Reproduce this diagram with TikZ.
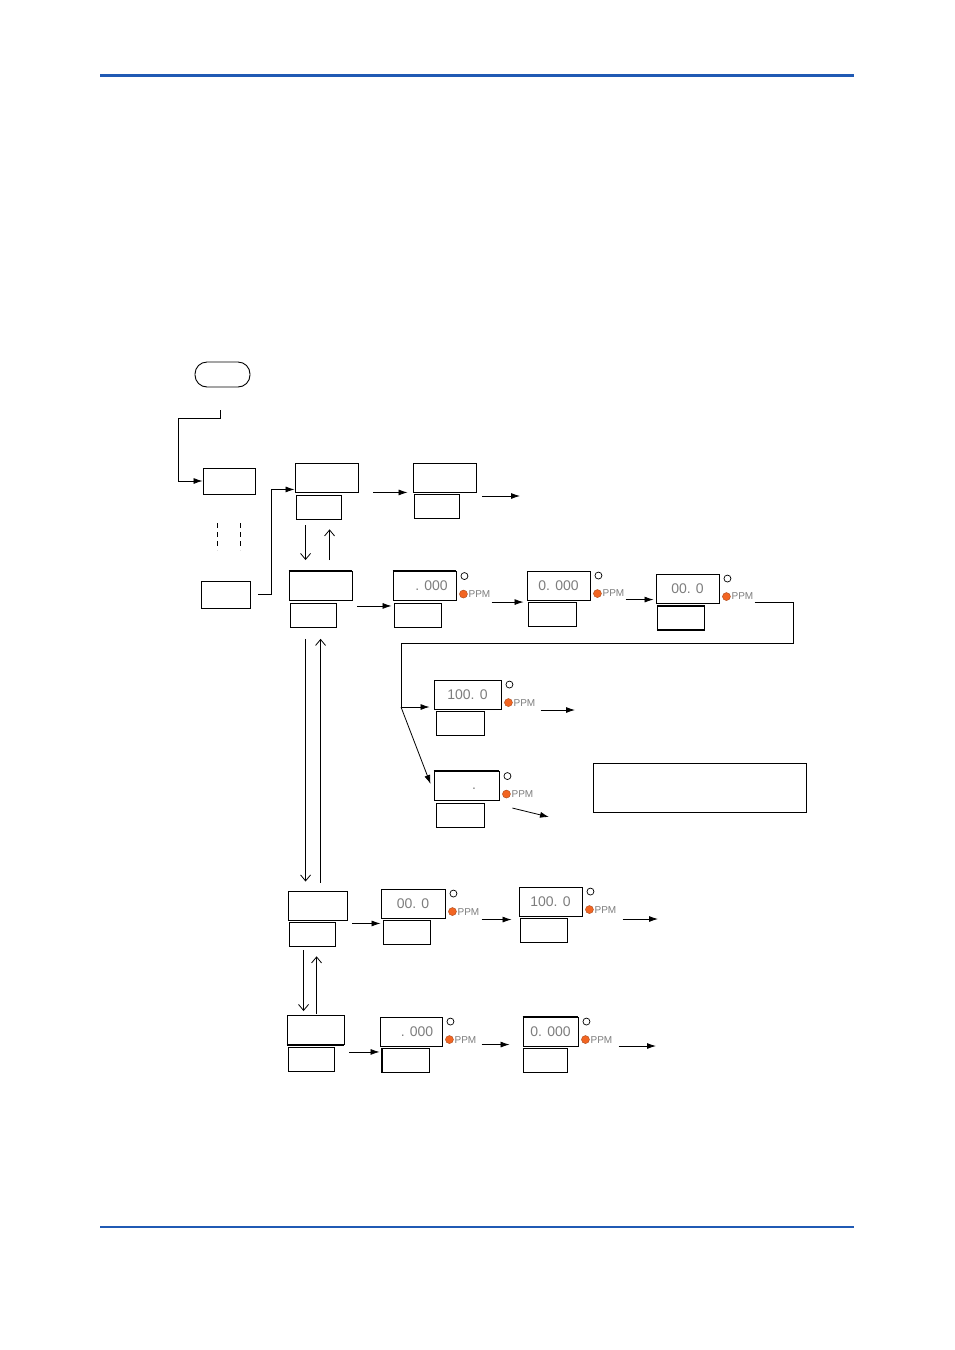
\documentclass[tikz,border=0pt]{standalone}
\usepackage{fontspec}
\setmainfont{Liberation Sans}
\usepackage{xcolor}
\usetikzlibrary{arrows.meta,positioning,calc}
\definecolor{ruleblue}{RGB}{32,90,180}
\definecolor{lamporange}{RGB}{242,101,34}
\definecolor{digitgray}{RGB}{125,125,125}
\tikzset{
  scr/.style={draw,line width=0.9pt,minimum width=63pt,minimum height=29pt,inner sep=0pt,font=\fontsize{14}{14}\selectfont,text=digitgray},
  sub/.style={draw,line width=0.9pt,minimum width=47pt,minimum height=24pt,inner sep=0pt},
  digit/.style={inner sep=0pt,font=\fontsize{14}{14}\selectfont,text=digitgray},
  arr/.style={-{Latex[length=9pt,width=6pt]},line width=0.8pt},
  varr/.style={-{Straight Barb[length=6pt,width=10pt]},line width=0.8pt},
  ppm/.style={font=\fontsize{10}{10}\selectfont,text=digitgray,inner sep=0pt},
  edge/.style={line width=2pt}
}
\newcommand{\lampset}[2]{%
  \draw[line width=0.7pt] ($(#1.north east)+(8,5)$) circle (3.5pt);
  \filldraw[lamporange,draw=lamporange!70!black,line width=0.4pt] ($(#1.north east)+(7,23)$) circle (4pt);
  \node[ppm,anchor=west] (#2) at ($(#1.north east)+(12,23)$) {PPM};
}

\begin{document}
\begin{tikzpicture}[x=1pt,y=-1pt]
    \useasboundingbox (0,0) rectangle (954,1350);
    \draw[ruleblue,line width=3pt] (100,75) -- (854,75);
    \draw[ruleblue,line width=2pt] (100,1227) -- (854,1227);

    \node[draw,line width=0.9pt,rounded corners=12pt,minimum width=55pt,minimum height=25pt] (key) at (222.5,374.5) {};
    \node[sub,minimum width=52pt,minimum height=26pt] (a1) at (229,481) {};
    \node[sub,minimum width=49pt,minimum height=27pt] (a2) at (225.5,594.5) {};
    \draw[dashed,dash pattern=on 5pt off 4pt] (217,523) -- (217,550);
    \draw[dashed,dash pattern=on 5pt off 4pt] (240,523) -- (240,550);

    \node[scr] (b1) at (326.5,477.5) {};
    \node[sub,anchor=north west,minimum width=45pt] (b1s) at ($(b1.south west)+(1,3)$) {};
    \node[scr] (c) at (444.5,477.5) {};
    \node[sub,anchor=north west,minimum width=45pt] (cs) at ($(c.south west)+(1,2)$) {};
    \coordinate (cOut) at (520,496);

    \node[scr] (b2) at (320.5,586) {};
    \node[sub,anchor=north west,minimum width=46pt] (b2s) at ($(b2.south west)+(1,2)$) {};
    \draw[edge] (b2.north west) -- (b2.north east);
    \node[scr] (d1) at (424.5,586) {\hspace{14pt}. 000};
    \node[sub,anchor=north west] (d1s) at ($(d1.south west)+(1,2)$) {};
    \draw[edge] (d1.north west) -- (d1.north east);
    \node[scr] (d2) at (558.5,585.5) {0. 000};
    \node[sub,anchor=north west,minimum width=48pt] (d2s) at ($(d2.south west)+(1,2)$) {};
    \node[scr] (d3) at (687.5,588.5) {00. 0};
    \node[sub,anchor=north west,line width=1.6pt] (d3s) at ($(d3.south west)+(1,2)$) {};
    \lampset{d1}{d1p}
    \lampset{d2}{d2p}
    \lampset{d3}{d3p}

    \coordinate (split) at (401,707);
    \node[scr,minimum width=67pt] (e1) at (467.5,694.5) {100. 0};
    \node[sub,anchor=north west,minimum width=48pt] (e1s) at ($(e1.south west)+(2,2)$) {};
    \node[scr,minimum width=65pt] (e2) at (466.5,786) {};
    \node[digit] (e2d) at (474,789) {.};
    \node[sub,anchor=north west,minimum width=48pt] (e2s) at ($(e2.south west)+(2,2)$) {};
    \draw[edge] (e2.north west) -- (e2.north east);
    \lampset{e1}{e1p}
    \lampset{e2}{e2p}
    \coordinate (e1Out) at (575,710);
    \coordinate (e2Out) at (549,817);
    \node[draw,line width=0.9pt,minimum width=213pt,minimum height=49pt] (note) at (699.5,787.5) {};

    \node[scr,minimum width=59pt] (f) at (317.5,905.5) {};
    \node[sub,anchor=north west,minimum width=46pt] (fs) at ($(f.south west)+(1,2)$) {};
    \node[scr,minimum width=64pt] (g1) at (413,903.5) {00. 0};
    \node[sub,anchor=north west] (g1s) at ($(g1.south west)+(2,2)$) {};
    \node[scr] (g2) at (550.5,901.5) {100. 0};
    \node[sub,anchor=north west] (g2s) at ($(g2.south west)+(1,2)$) {};
    \lampset{g1}{g1p}
    \lampset{g2}{g2p}
    \coordinate (g2Out) at (658,919);

    \node[scr,minimum width=57pt] (h) at (315.5,1030) {};
    \node[sub,anchor=north west,minimum width=46pt] (hs) at ($(h.south west)+(1,2)$) {};
    \draw[edge] (h.south west) -- (h.south east);
    \node[scr,minimum width=62pt] (j1) at (411,1031.5) {\hspace{12pt}. 000};
    \node[sub,anchor=north west] (j1s) at ($(j1.south west)+(2,2)$) {};
    \draw[edge] (j1s.north west) -- (j1s.south west);
    \node[scr,minimum width=55pt] (j2) at (550.5,1031.5) {0. 000\hspace{6pt}};
    \node[sub,anchor=north west,minimum width=44pt] (j2s) at ($(j2.south west)+(0,2)$) {};
    \draw[edge] (j2.north west) -- (j2.north east);
    \lampset{j1}{j1p}
    \lampset{j2}{j2p}
    \coordinate (j2Out) at (656,1046);

    \coordinate (k0) at (220,410);
    \draw[arr] (k0) -- ++(0,8) -| ($(a1.west)+(-24,0)$) -- (a1.west);
    \draw[arr] ($(a2.east)+(8,0)$) -- ++(13,0) |- ($(b1.south west)+(0,-3)$);
    \draw[arr,shorten <=15pt,shorten >=5pt] (b1.south east) -- (c.south west);
    \draw[arr] ([xshift=6pt]c.south east |- cOut) -- (cOut);
    \draw[varr,shorten <=5pt,shorten >=11pt] ([xshift=10pt]b1s.south west) -- ([xshift=10pt]b1s.south west |- b2.north);
    \draw[varr,shorten <=11pt,shorten >=9pt] ([xshift=34pt]b1s.south west |- b2.north) -- ([xshift=34pt]b1s.south west);

    \draw[arr,shorten <=5pt,shorten >=1pt] ([yshift=-5pt]b2.south east) -- ([yshift=-5pt]b2.south east -| d1.west);
    \draw[arr,shorten <=1pt,shorten >=3pt] ([yshift=-8pt]d1p.east) -- ([yshift=-8pt]d1p.east -| d2.west);
    \draw[arr,shorten <=1pt,shorten >=2pt] ([yshift=-6pt]d2p.east) -- ([yshift=-6pt]d2p.east -| d3.west);
    \draw[line width=0.8pt] ([xshift=1pt,yshift=-6pt]d3p.east) -| (793,643) -| (split);
    \draw[arr,shorten >=4pt] (split) -- (split -| e1.west);
    \draw[arr] (split) -- ($(e2.west)+(-3,-2)$);
    \draw[arr] ([xshift=5pt]e1p.east |- e1Out) -- (e1Out);
    \draw[arr] ($(e2p.west)+(1,14)$) -- (e2Out);

    \draw[varr,shorten <=11pt,shorten >=9pt] ([xshift=16pt]b2s.south west) -- ([xshift=16pt]b2s.south west |- f.north);
    \draw[varr,shorten <=8pt,shorten >=11pt] ([xshift=31pt]b2s.south west |- f.north) -- ([xshift=31pt]b2s.south west);
    \draw[arr,shorten <=5pt] ([yshift=-3pt]f.south east) -- ([yshift=-3pt]f.south east -| g1.west);
    \draw[arr,shorten <=2pt,shorten >=7pt] ([yshift=-8pt]g1p.east) -- ([yshift=-8pt]g1p.east -| g2.west);
    \draw[arr] ([xshift=6pt]g2p.east |- g2Out) -- (g2Out);

    \draw[varr,shorten <=3pt,shorten >=4pt] ([xshift=15pt]fs.south west) -- ([xshift=15pt]fs.south west |- h.north);
    \draw[varr,shorten <=1pt,shorten >=9pt] ([xshift=28pt]fs.south west |- h.north) -- ([xshift=28pt]fs.south west);
    \draw[arr,shorten <=5pt,shorten >=2pt] ([yshift=-7pt]h.south east) -- ([yshift=-7pt]h.south east -| j1s.west);
    \draw[arr,shorten <=5pt,shorten >=13pt] ([yshift=-5pt]j1p.east) -- ([yshift=-5pt]j1p.east -| j2.west);
    \draw[arr] ([xshift=6pt]j2p.east |- j2Out) -- (j2Out);
\end{tikzpicture}
\end{document}
